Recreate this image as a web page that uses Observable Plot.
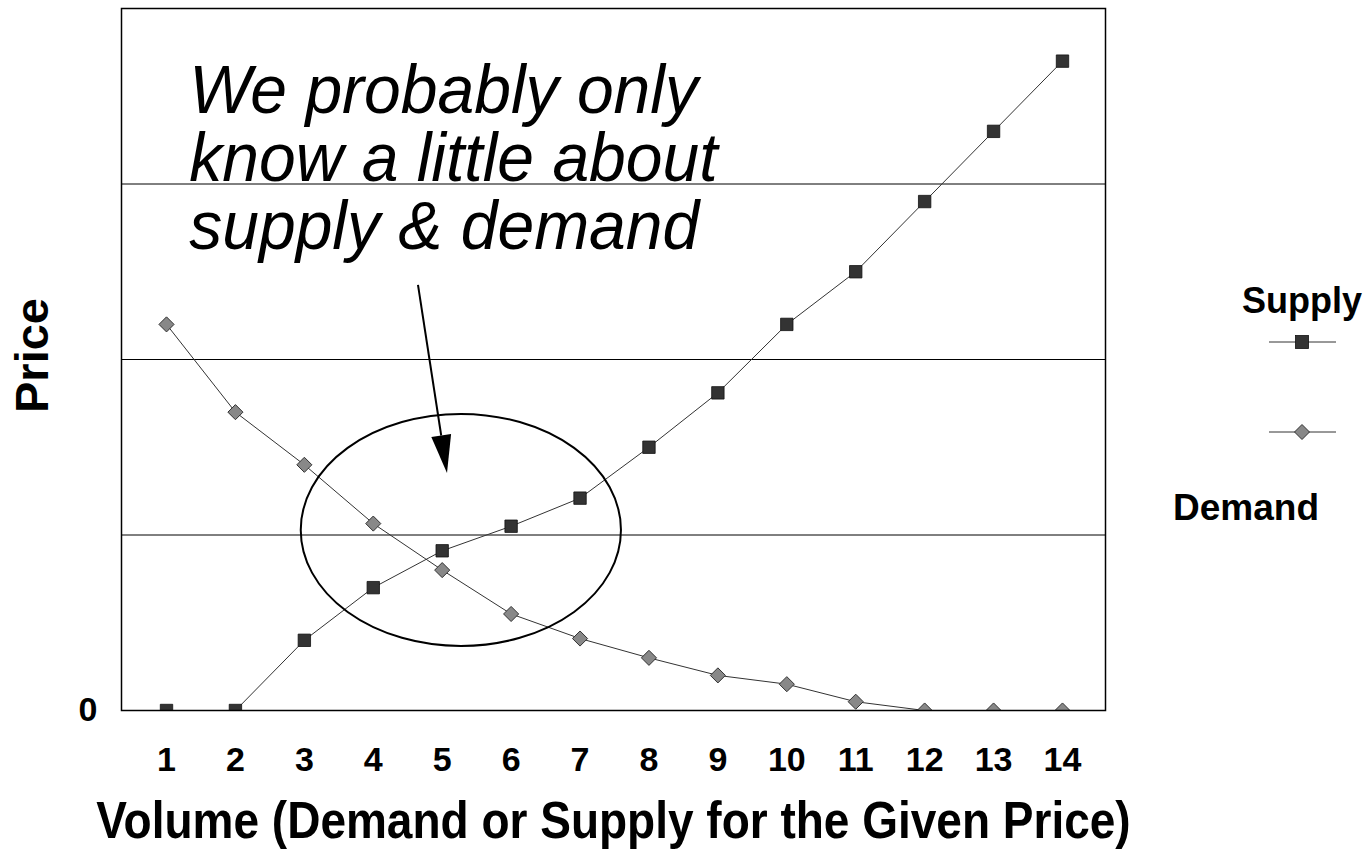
<!DOCTYPE html>
<html><head><meta charset="utf-8">
<script src="https://cdn.jsdelivr.net/npm/d3@7"></script>
<script src="https://cdn.jsdelivr.net/npm/@observablehq/plot@0.6"></script>
<style>
html,body{margin:0;padding:0;background:#fff;}
#wrap{position:relative;width:1369px;height:851px;font-family:"Liberation Sans",Arial,sans-serif;}
#legend{position:absolute;left:1160px;top:270px;}
</style></head><body><div id="wrap"></div>
<script>
// ---- data ----
const volume = [1,2,3,4,5,6,7,8,9,10,11,12,13,14];
const supplyPrice = [0,0,0.40,0.70,0.91,1.05,1.21,1.50,1.81,2.20,2.50,2.90,3.30,3.70];
const demandPrice = [2.20,1.70,1.40,1.065,0.80,0.55,0.41,0.30,0.20,0.15,0.05,0,0,0];
const seriesNames = ["Supply","Demand"];
const xTickLabels = [1,2,3,4,5,6,7,8,9,10,11,12,13,14];
const yTickLabels = [0];
const gridValues = [1,2,3];
const annotationLines = ["We probably only","know a little about","supply & demand"];
const xTitle = "Volume (Demand or Supply for the Given Price)";
const yTitle = "Price";

const supply = volume.map((v,i)=>({volume:v, price:supplyPrice[i]}));
const demand = volume.map((v,i)=>({volume:v, price:demandPrice[i]}));

// annotation geometry in data units
const ellipse = {cx:5.278, cy:1.026, rx:2.323, ry:0.661};
const arrow = {x1:4.656, y1:2.422, x2:5.077, y2:1.350};
const note = {x:1.33, y:3.677};

const FONT = '"Liberation Sans",Arial,sans-serif';

function ellipseMark(index, scales) {
  const {x, y} = scales;
  const g = d3.create("svg:g");
  g.append("ellipse")
    .attr("cx", x(ellipse.cx)).attr("cy", y(ellipse.cy))
    .attr("rx", Math.abs(x(ellipse.cx + ellipse.rx) - x(ellipse.cx)))
    .attr("ry", Math.abs(y(ellipse.cy + ellipse.ry) - y(ellipse.cy)))
    .attr("fill","none").attr("stroke","black").attr("stroke-width",2);
  return g.node();
}
function arrowMark(index, scales) {
  const {x, y} = scales;
  const X1 = x(arrow.x1), Y1 = y(arrow.y1), X2 = x(arrow.x2), Y2 = y(arrow.y2);
  const dx = X2-X1, dy = Y2-Y1, L = Math.hypot(dx,dy);
  const ux = dx/L, uy = dy/L, hl = 38, hw = 10;
  const bx = X2-ux*hl, by = Y2-uy*hl;
  const g = d3.create("svg:g");
  g.append("line").attr("x1",X1).attr("y1",Y1).attr("x2",bx).attr("y2",by)
    .attr("stroke","black").attr("stroke-width",2);
  g.append("polygon")
    .attr("points", [[X2,Y2],[bx-uy*hw,by+ux*hw],[bx+uy*hw,by-ux*hw]].map(p=>p.join(",")).join(" "))
    .attr("fill","black");
  return g.node();
}

const chart = Plot.plot({
  width:1369, height:851,
  marginLeft:121, marginRight:264, marginTop:8, marginBottom:141,
  style:{fontFamily:FONT, background:"white", color:"black"},
  x:{type:"linear", domain:[0.347,14.624]},
  y:{domain:[0,4]},
  marks:[
    Plot.gridY(gridValues, {stroke:"black", strokeOpacity:1, strokeWidth:1}),
    Plot.axisX({ticks:xTickLabels, tickSize:0, tickPadding:36, fontSize:34, fontWeight:"bold", label:null, tickFormat:d=>String(d)}),
    Plot.axisY({ticks:yTickLabels, tickSize:0, tickPadding:24, fontSize:34, fontWeight:"bold", label:null, tickFormat:d=>String(d)}),
    Plot.text([yTitle], {frameAnchor:"left", dx:-89, dy:-4, rotate:-90, textAnchor:"middle", lineAnchor:"middle", fontSize:47, fontWeight:"bold", fill:"black"}),
    Plot.text([xTitle], {frameAnchor:"bottom", dy:111, textAnchor:"middle", lineAnchor:"middle", fontSize:52, fontWeight:"bold", fill:"black", className:"xtitle"}),
    Plot.line(demand, {x:"volume", y:"price", stroke:"#333", strokeWidth:1}),
    Plot.line(supply, {x:"volume", y:"price", stroke:"#333", strokeWidth:1}),
    Plot.dot(demand, {x:"volume", y:"price", symbol:"diamond2", r:6.8, fill:"#888", stroke:"#333", strokeWidth:1, clip:true}),
    Plot.dot(supply, {x:"volume", y:"price", symbol:"square", r:7, fill:"#333", stroke:"#111", strokeWidth:0.8, clip:true}),
    Plot.text([annotationLines.join("\n")], {x:()=>note.x, y:()=>note.y, textAnchor:"start", lineAnchor:"top", lineHeight:1.0, fontSize:68, fontStyle:"italic", fill:"black", className:"annot"}),
    ellipseMark,
    arrowMark,
    Plot.frame({stroke:"black", strokeWidth:1.5})
  ]
});
document.getElementById("wrap").appendChild(chart);

// slightly taller glyphs than wide, as in the reference
function squeeze(selector, ratio) {
  document.querySelectorAll(selector).forEach(el => {
    const w = el.getComputedTextLength();
    el.setAttribute("textLength", w * ratio);
    el.setAttribute("lengthAdjust", "spacingAndGlyphs");
  });
}
squeeze(".annot tspan", 66/68);
squeeze(".xtitle text", 46/52);

// ---- legend ----
const leg = d3.create("svg").attr("id","legend").attr("width",209).attr("height",270)
  .style("font-family",FONT);
const ox = 1160, oy = 270;
leg.append("text").attr("x",1302-ox).attr("y",313-oy).attr("text-anchor","middle")
  .attr("font-size",36).attr("font-weight","bold").text(seriesNames[0]);
leg.append("text").attr("x",1246-ox).attr("y",520-oy).attr("text-anchor","middle")
  .attr("font-size",37).attr("font-weight","bold").text(seriesNames[1]);
[[342,"square"],[432,"diamond"]].forEach(([yy,kind])=>{
  leg.append("line").attr("x1",1269-ox).attr("x2",1336-ox).attr("y1",yy-oy).attr("y2",yy-oy)
    .attr("stroke","#333").attr("stroke-width",1);
  if(kind==="square"){
    leg.append("rect").attr("x",1302-ox-6.5).attr("y",yy-oy-6.5).attr("width",13).attr("height",13)
      .attr("fill","#333").attr("stroke","#111").attr("stroke-width",0.8);
  } else {
    const c=[1302-ox, yy-oy], h=7.5;
    leg.append("polygon").attr("points",[[c[0],c[1]-h],[c[0]+h,c[1]],[c[0],c[1]+h],[c[0]-h,c[1]]].map(p=>p.join(",")).join(" "))
      .attr("fill","#888").attr("stroke","#333").attr("stroke-width",1);
  }
});
document.getElementById("wrap").appendChild(leg.node());
</script></body></html>
